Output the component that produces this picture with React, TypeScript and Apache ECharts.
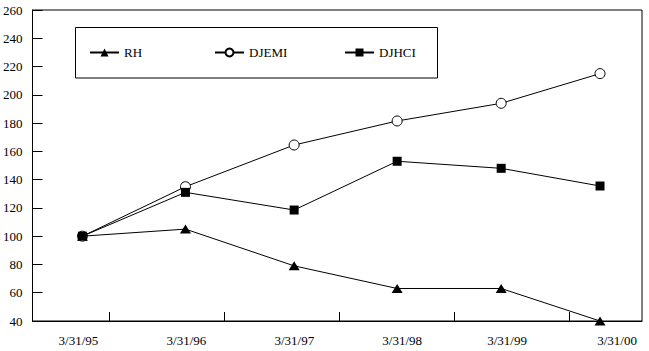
import React, { useEffect, useRef } from "react";
import * as echarts from "echarts";

const categories = ["3/31/95", "3/31/96", "3/31/97", "3/31/98", "3/31/99", "3/31/00"];
const rhValues = [100, 105, 79, 63, 63, 40];
const djemiValues = [100, 135, 164.5, 181.5, 194, 215];
const djhciValues = [100, 131, 118.5, 153, 148, 135.5];
const yTicks = { min: 40, max: 260, interval: 20 };

// x positions in "years since 3/31/95"
const xValues = [0, 0.995, 2.045, 3.04, 4.045, 5];
const xTickValues = [0.2606, 1.3707, 2.4807, 3.5907, 4.7008];
const xLabelValues = [-0.0386, 1.0039, 2.0463, 3.0888, 4.1023, 5.1641];

const FONT = '"Liberation Serif", "Times New Roman", serif';

export default function App() {
  const ref = useRef<HTMLDivElement>(null);
  useEffect(() => {
    if (!ref.current) return;
    const chart = echarts.init(ref.current, undefined, { renderer: "svg" });
    const pts = (vals: number[]) => vals.map((v, i) => [xValues[i], v]);
    const lineStyle = { color: "#000", width: 1 };
    const legendCommon = {
      top: 46,
      padding: 0,
      itemWidth: 29,
      itemHeight: 10,
      itemGap: 0,
      textStyle: { fontFamily: FONT, fontSize: 13, color: "#000", padding: [0, 0, 0, 0] },
      selectedMode: false as const,
    };
    chart.setOption({
      animation: false,
      backgroundColor: "#fff",
      grid: {
        left: 32,
        right: 7,
        top: 10,
        bottom: 30,
        show: true,
        borderColor: "#000",
        borderWidth: 1,
        backgroundColor: "transparent",
      },
      xAxis: {
        type: "value",
        min: -50 / 103.6,
        max: 560 / 103.6,
        axisLine: { show: true, onZero: false, lineStyle: { color: "#000", width: 1 } },
        axisTick: {
          show: true,
          inside: true,
          length: 9,
          customValues: xTickValues,
          lineStyle: { color: "#000", width: 1 },
        },
        axisLabel: {
          show: true,
          customValues: xLabelValues,
          margin: 13,
          fontFamily: FONT,
          fontSize: 13,
          color: "#000",
          formatter: (val: number) => {
            let best = 0;
            let bd = Infinity;
            xLabelValues.forEach((lv, i) => {
              const d = Math.abs(lv - val);
              if (d < bd) {
                bd = d;
                best = i;
              }
            });
            return categories[best];
          },
        },
        splitLine: { show: false },
      },
      yAxis: {
        type: "value",
        min: yTicks.min,
        max: yTicks.max,
        interval: yTicks.interval,
        axisLine: { show: true, onZero: false, lineStyle: { color: "#000", width: 1 } },
        axisTick: { show: true, inside: true, length: 10, lineStyle: { color: "#000", width: 1 } },
        axisLabel: { margin: 10, fontFamily: FONT, fontSize: 13, color: "#000" },
        splitLine: { show: false },
      },
      legend: [
        { ...legendCommon, left: 89, data: ["RH"] },
        { ...legendCommon, left: 214, data: ["DJEMI"] },
        { ...legendCommon, left: 344, data: ["DJHCI"] },
      ],
      graphic: [
        {
          type: "rect",
          z: 0,
          shape: { x: 75.5, y: 27.5, width: 362, height: 50.5 },
          style: { fill: "none", stroke: "#000", lineWidth: 1 },
        },
      ],
      series: [
        {
          name: "RH",
          type: "line",
          data: pts(rhValues),
          symbol: "triangle",
          symbolSize: [11, 9],
          lineStyle,
          itemStyle: { color: "#000", borderWidth: 0 },
        },
        {
          name: "DJEMI",
          type: "line",
          data: pts(djemiValues),
          symbol: "circle",
          symbolSize: 10,
          lineStyle,
          itemStyle: { color: "#fff", borderColor: "#000", borderWidth: 1 },
        },
        {
          name: "DJHCI",
          type: "line",
          data: pts(djhciValues),
          symbol: "rect",
          symbolSize: 9,
          lineStyle,
          itemStyle: { color: "#000", borderWidth: 0 },
        },
      ],
    });
    return () => chart.dispose();
  }, []);
  return (
    <div
      ref={ref}
      style={{ position: "fixed", left: 0, top: 0, width: 649, height: 351 }}
    />
  );
}
